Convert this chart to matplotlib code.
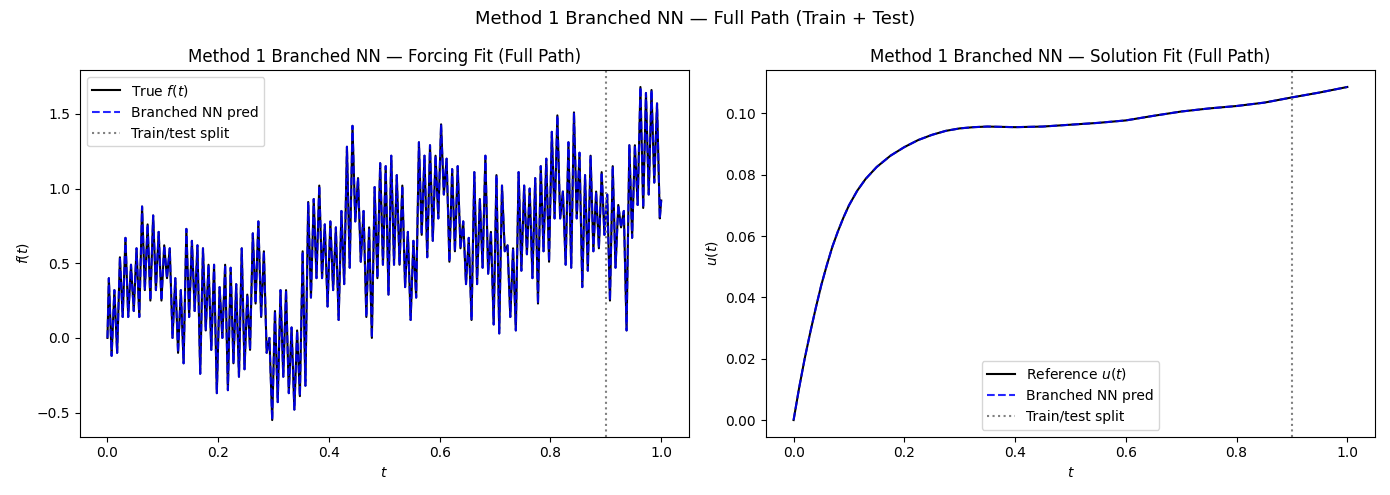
import numpy as np
import matplotlib
matplotlib.use('Agg')
import matplotlib.pyplot as plt

# forcing f(t): peak / trough read per 0.01 interval of t
f_hi = [0.40, 0.32, 0.54, 0.67, 0.49, 0.60, 0.88, 0.76, 0.82, 0.71,
        0.62, 0.60, 0.40, 0.32, 0.73, 0.65, 0.62, 0.60, 0.49, 0.49,
        0.34, 0.49, 0.47, 0.36, 0.60, 0.29, 0.70, 0.78, 0.58, 0.00,
        0.18, 0.32, 0.32, 0.07, 0.05, 0.58, 0.91, 0.93, 1.02, 0.76,
        0.78, 0.74, 0.85, 1.28, 1.42, 1.07, 0.85, 0.74, 1.01, 1.17,
        1.15, 1.22, 1.09, 1.02, 0.71, 0.65, 1.31, 1.22, 1.29, 1.22,
        1.43, 1.20, 1.13, 1.15, 0.78, 0.67, 1.11, 0.93, 1.22, 0.71,
        1.09, 1.02, 0.62, 0.60, 1.11, 1.02, 1.00, 1.07, 1.15, 1.20,
        1.38, 1.49, 0.98, 1.31, 1.51, 1.24, 1.09, 1.22, 0.98, 1.11,
        0.96, 1.15, 0.89, 0.85, 1.29, 1.29, 1.68, 1.64, 1.66, 1.57]
f_lo = [-0.12, -0.10, 0.14, 0.14, 0.18, 0.14, 0.32, 0.25, 0.32, 0.25,
        0.40, 0.00, -0.10, -0.17, 0.14, 0.18, -0.24, 0.05, -0.08, -0.37,
        0.00, -0.35, -0.17, -0.26, -0.21, -0.08, 0.23, 0.14, -0.10, -0.55,
        -0.43, -0.26, -0.37, -0.48, -0.39, -0.32, 0.27, 0.40, 0.40, 0.21,
        0.32, 0.12, 0.36, 0.47, 0.78, 0.51, 0.14, 0.00, 0.40, 0.49,
        0.29, 0.49, 0.49, 0.34, 0.12, 0.27, 0.69, 0.54, 0.65, 0.80,
        0.96, 0.51, 0.58, 0.60, 0.36, 0.12, 0.36, 0.47, 0.43, 0.09,
        0.03, 0.58, 0.14, 0.05, 0.45, 0.56, 0.40, 0.23, 0.58, 0.51,
        0.80, 0.80, 0.49, 0.47, 0.80, 0.34, 0.45, 0.58, 0.60, 0.69,
        0.25, 0.47, 0.74, 0.05, 0.67, 0.89, 0.87, 0.96, 1.04, 0.80]
f_start = 0.0
f_end = 0.92

# solution u(t)
t_u = [0.0, 0.01, 0.02, 0.03, 0.04, 0.05, 0.06, 0.07, 0.08, 0.09, 0.1,
       0.115, 0.13, 0.15, 0.175, 0.2, 0.225, 0.25, 0.275, 0.3, 0.325,
       0.35, 0.4, 0.45, 0.5, 0.55, 0.6, 0.65, 0.7, 0.75, 0.8, 0.85,
       0.9, 0.95, 1.0]
u_ref = [0.0, 0.0105, 0.0200, 0.0285, 0.0365, 0.0440, 0.0505, 0.0565,
         0.0615, 0.0660, 0.0700, 0.0748, 0.0786, 0.0825, 0.0862, 0.0890,
         0.0913, 0.0930, 0.0943, 0.0951, 0.0955, 0.0957, 0.0955, 0.0957,
         0.0963, 0.0969, 0.0977, 0.0992, 0.1006, 0.1016, 0.1024, 0.1035,
         0.1052, 0.1068, 0.1086]

t_split = 0.9

# build zigzag path of the forcing
t_f = [0.0]
f_true = [f_start]
for i in range(len(f_hi)):
    t_f += [0.01 * i + 0.0025, 0.01 * i + 0.0075]
    f_true += [f_hi[i], f_lo[i]]
t_f.append(1.0)
f_true.append(f_end)
t_f = np.array(t_f)
f_true = np.array(f_true)

fig, (ax1, ax2) = plt.subplots(1, 2, figsize=(13.9, 4.95), dpi=100)

ax1.plot(t_f, f_true, 'k-', lw=1.5, label='True $f(t)$')
ax1.plot(t_f, f_true, 'b--', lw=1.5, alpha=0.85, label='Branched NN pred')
ax1.axvline(t_split, color='gray', ls=':', lw=1.5, label='Train/test split')
ax1.set_xlabel('$t$')
ax1.set_ylabel('$f(t)$')
ax1.set_title('Method 1 Branched NN — Forcing Fit (Full Path)')
ax1.legend(loc='upper left')

ax2.plot(t_u, u_ref, 'k-', lw=1.5, label='Reference $u(t)$')
ax2.plot(t_u, u_ref, 'b--', lw=1.5, alpha=0.85, label='Branched NN pred')
ax2.axvline(t_split, color='gray', ls=':', lw=1.5, label='Train/test split')
ax2.set_xlabel('$t$')
ax2.set_ylabel('$u(t)$')
ax2.set_title('Method 1 Branched NN — Solution Fit (Full Path)')
ax2.legend(loc='lower center')

fig.suptitle('Method 1 Branched NN — Full Path (Train + Test)', fontsize=13)
fig.tight_layout()
fig.savefig('out.png', dpi=100)
